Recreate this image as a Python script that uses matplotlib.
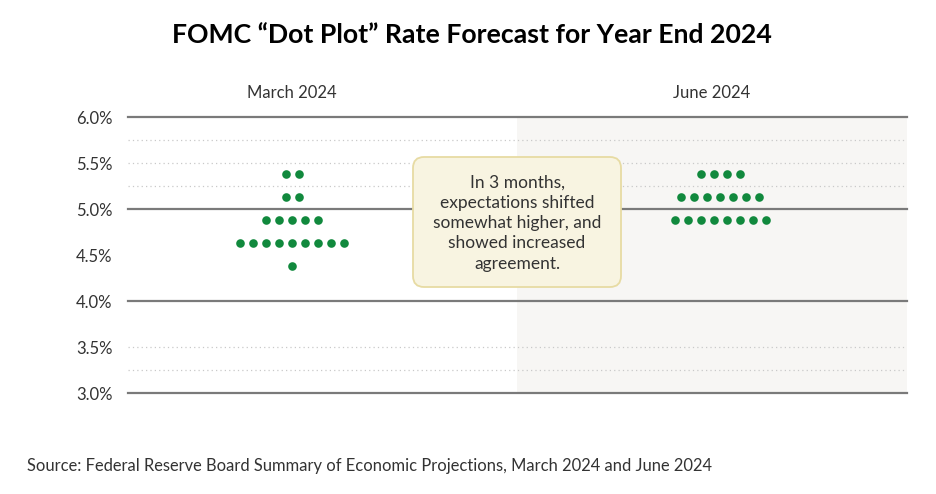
import numpy as np
import matplotlib.pyplot as plt
from matplotlib.patches import FancyBboxPatch
from matplotlib.transforms import IdentityTransform

plt.rcParams['font.family'] = ['Lato', 'DejaVu Sans']

meetings = ['March 2024', 'June 2024']
rate_levels = [5.375, 5.125, 4.875, 4.625, 4.375]
march_counts = [2, 2, 5, 9, 1]
june_counts = [4, 7, 8, 0, 0]
counts = [march_counts, june_counts]
yticks = [3.0, 3.5, 4.0, 4.5, 5.0, 5.5, 6.0]
solid_levels = [3.0, 4.0, 5.0, 6.0]
dotted_levels = [3.25, 3.5, 5.25, 5.5, 5.75]

green = '#11893d'
text_col = '#333333'

W, H = 936, 494
fig = plt.figure(figsize=(W / 100, H / 100), dpi=100)
ax = fig.add_axes([128 / W, (H - 393) / H, (907 - 128) / W, 276 / H])

xpos = np.arange(len(meetings))
step = 13 / 428
ax.set_xlim(-164 / 428, 615 / 428)
ax.set_ylim(3.0, 6.0)

# shaded June panel
ax.axvspan(225 / 428, 615 / 428, color='#f7f6f4', zorder=0, lw=0)

for lv in solid_levels:
    ax.axhline(lv, color='#7a7a7a', lw=1.6, zorder=1, clip_on=False)
for lv in dotted_levels:
    ax.axhline(lv, color='#c9c9c9', lw=0.9, dashes=(1, 2.5), zorder=1)

for xc, cts in zip(xpos, counts):
    for lv, n in zip(rate_levels, cts):
        if n == 0:
            continue
        xs = xc + (np.arange(n) - (n - 1) / 2) * step
        ax.plot(xs, [lv] * n, 'o', color=green, ms=6.2, mec='none', zorder=3)

for xc, name in zip(xpos, meetings):
    ax.text(xc - (0.02 if xc else 0), 6.0 + 24 / 92, name, ha='center', va='center',
            fontsize=12, color=text_col)

ax.set_yticks(yticks)
ax.set_yticklabels([f'{v:.1f}%' for v in yticks], fontsize=12, color=text_col)
ax.tick_params(axis='y', length=0, pad=11)
ax.set_xticks([])
for s in ax.spines.values():
    s.set_visible(False)

# callout box (pixel coordinates)
box = FancyBboxPatch((413, H - 287), 208, 130,
                     boxstyle='round,pad=0,rounding_size=11',
                     transform=IdentityTransform(), facecolor='#f8f4e1',
                     edgecolor='#e7dba3', lw=1.3, zorder=5)
fig.patches.append(box)
fig.text(517 / W, (H - 223) / H,
         'In 3 months,\nexpectations shifted\nsomewhat higher, and\nshowed increased\nagreement.',
         ha='center', va='center', fontsize=12.5, color=text_col,
         linespacing=1.33, zorder=6)

fig.text(472 / W, (H - 35) / H, 'FOMC \u201cDot Plot\u201d Rate Forecast for Year End 2024',
         ha='center', va='center', fontsize=19.2, fontweight='bold', color='black')
fig.text(27 / W, (H - 466) / H,
         'Source: Federal Reserve Board Summary of Economic Projections, March 2024 and June 2024',
         ha='left', va='center', fontsize=11.9, color=text_col)

fig.savefig('out.png', dpi=100)
